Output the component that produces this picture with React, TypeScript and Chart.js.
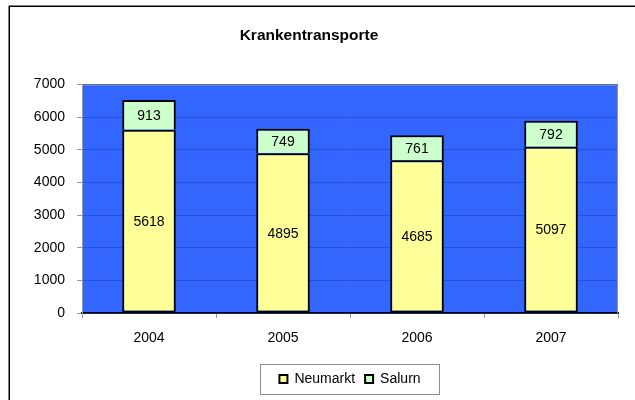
import React, { useEffect, useRef } from "react";
import { Chart, registerables } from "chart.js";

Chart.register(...registerables);

const categories = ["2004", "2005", "2006", "2007"];
const neumarkt = [5618, 4895, 4685, 5097];
const salurn = [913, 749, 761, 792];
const yTicks = [0, 1000, 2000, 3000, 4000, 5000, 6000, 7000];
const titleText = "Krankentransporte";

const FONT = "'Liberation Sans', Arial, sans-serif";

const decorPlugin = {
  id: "decor",
  beforeDraw(chart: any) {
    const { ctx, chartArea } = chart;
    ctx.save();
    ctx.fillStyle = "#ffffff";
    ctx.fillRect(0, 0, chart.width, chart.height);
    ctx.strokeStyle = "#000000";
    ctx.lineWidth = 1.5;
    ctx.strokeRect(9.25, 6.25, 700, 500);
    ctx.fillStyle = "#3366FF";
    ctx.fillRect(chartArea.left, chartArea.top, chartArea.right - chartArea.left, chartArea.bottom - chartArea.top);
    ctx.restore();
  },
  afterDatasetsDraw(chart: any) {
    const { ctx, chartArea } = chart;
    ctx.save();
    ctx.strokeStyle = "#999999";
    ctx.lineWidth = 1;
    ctx.beginPath();
    ctx.moveTo(chartArea.left, chartArea.top + 0.5);
    ctx.lineTo(chartArea.right - 0.5, chartArea.top + 0.5);
    ctx.lineTo(chartArea.right - 0.5, chartArea.bottom);
    ctx.stroke();
    ctx.fillStyle = "#000000";
    ctx.font = "14px " + FONT;
    ctx.textAlign = "center";
    ctx.textBaseline = "middle";
    chart.data.datasets.forEach((ds: any, di: number) => {
      const meta = chart.getDatasetMeta(di);
      meta.data.forEach((bar: any, i: number) => {
        const cy = (bar.y + bar.base) / 2;
        ctx.fillText(String(ds.data[i]), bar.x, cy + 1);
      });
    });
    ctx.restore();
  },
  afterDraw(chart: any) {
    const { ctx } = chart;
    const lg = chart.legend;
    if (!lg || !lg.legendHitBoxes || !lg.legendHitBoxes.length) return;
    let minX = Infinity, maxX = -Infinity, minY = Infinity, maxY = -Infinity;
    lg.legendHitBoxes.forEach((h: any) => {
      minX = Math.min(minX, h.left);
      maxX = Math.max(maxX, h.left + h.width);
      minY = Math.min(minY, h.top);
      maxY = Math.max(maxY, h.top + h.height);
    });
    const cy = (minY + maxY) / 2;
    ctx.save();
    ctx.strokeStyle = "#8c8c8c";
    ctx.lineWidth = 1;
    ctx.strokeRect(Math.round(minX - 19) + 0.5, Math.round(cy - 15) + 0.5, Math.round(maxX - minX + 38), 30);
    ctx.restore();
  },
};

export default function App() {
  const ref = useRef<HTMLCanvasElement | null>(null);

  useEffect(() => {
    document.body.style.margin = "0";
    const canvas = ref.current;
    if (!canvas) return;
    const chart = new Chart(canvas, {
      type: "bar",
      data: {
        labels: categories,
        datasets: [
          {
            label: "Neumarkt",
            data: neumarkt,
            backgroundColor: "#FFFF99",
            borderColor: "#000000",
            borderWidth: 2,
            borderSkipped: false,
            categoryPercentage: 1,
            barPercentage: 0.4,
          },
          {
            label: "Salurn",
            data: salurn,
            backgroundColor: "#CCFFCC",
            borderColor: "#000000",
            borderWidth: 2,
            borderSkipped: "bottom",
            categoryPercentage: 1,
            barPercentage: 0.4,
          },
        ],
      },
      options: {
        animation: false,
        responsive: false,
        devicePixelRatio: 1,
        layout: { padding: { left: 0, right: 17, top: 0, bottom: 4 } },
        plugins: {
          tooltip: { enabled: false },
          title: {
            display: true,
            text: titleText,
            color: "#000000",
            font: { family: FONT, size: 15.5, weight: "bold" },
            padding: { top: 26, bottom: 40 },
          },
          legend: {
            position: "bottom",
            fullSize: false,
            labels: {
              color: "#000000",
              font: { family: FONT, size: 14 },
              boxWidth: 8,
              boxHeight: 8,
              padding: 10,
            },
          },
        },
        scales: {
          x: {
            stacked: true,
            grid: {
              display: true,
              drawOnChartArea: false,
              drawTicks: true,
              tickLength: 5,
              color: "#999999",
              offset: true,
            },
            border: { display: true, color: "#000000", width: 1.5 },
            ticks: {
              color: "#000000",
              font: { family: FONT, size: 14 },
              padding: 12,
            },
            afterFit(scale: any) {
              scale.height = 49;
            },
          },
          y: {
            stacked: true,
            min: 0,
            max: 7000,
            afterBuildTicks(scale: any) {
              scale.ticks = yTicks.map((v) => ({ value: v }));
            },
            grid: {
              color: "#2452D2",
              lineWidth: 1,
              drawTicks: true,
              tickLength: 5,
              tickColor: "#999999",
            },
            border: { display: true, color: "#999999", width: 1 },
            ticks: {
              color: "#000000",
              font: { family: FONT, size: 14 },
              padding: 12,
              callback: (v: any) => String(v),
            },
            afterFit(scale: any) {
              scale.width = 82;
            },
          },
        },
      },
      plugins: [decorPlugin],
    } as any);
    return () => chart.destroy();
  }, []);

  return (
    <div style={{ position: "absolute", left: 0, top: 0, width: 635, height: 400 }}>
      <canvas ref={ref} width={635} height={400} />
    </div>
  );
}
